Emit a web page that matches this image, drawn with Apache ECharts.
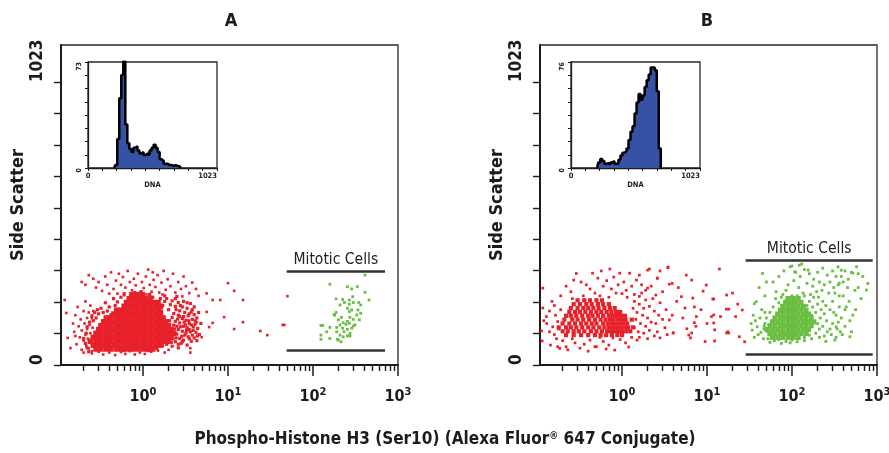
<!DOCTYPE html>
<html><head><meta charset="utf-8">
<script src="https://cdn.jsdelivr.net/npm/echarts@6/dist/echarts.min.js"></script>
<style>html,body{margin:0;padding:0;background:#fff}#c{width:889px;height:453px}</style>
</head><body><div id="c"></div><script>
// ---------- axis ticks / labels ----------
const xTickMajor = [1, 10, 100, 1000];
const xTickMinor = [0.2,0.3,0.4,0.5,0.6,0.7,0.8,0.9, 2,3,4,5,6,7,8,9, 20,30,40,50,60,70,80,90, 200,300,400,500,600,700,800,900];
const yTicks = [0, 113.67, 227.33, 341, 454.67, 568.33, 682, 795.67, 909.33, 1023];
const yLabels = [0, 1023];
const dnaTicks = [0, 113.67, 227.33, 341, 454.67, 568.33, 682, 795.67, 909.33, 1023];
const dnaLabels = [0, 1023];
const insetMaxA = 73, insetMaxB = 76;

// ---------- gates (Mitotic Cells) ----------
const gateA = {x: [49, 703], y: [54, 340]};
const gateB = {x: [28.5, 890], y: [40, 380]};

// ---------- DNA histograms ----------
const histAx = [208,224,240,256,272,288,304,320,336,352,368,384,400,416,432,448,464,480,496,512,528,544,560,576,592,608,624,640,656,672,688,704,720,736];
const histAy = [0,2,20,48,64,90,30,17,13,11,14,15,12,10,11,9,10,9,12,14,16,14,11,6,5,3,3,2,2,1.5,2,1.5,1,0];
const histBx = [208,224,240,256,272,288,304,320,336,352,368,384,400,416,432,448,464,480,496,512,528,544,560,576,592,608,624,640,656,672,688,704,720];
const histBy = [0,4,6.5,5,3,3.5,2.5,4,5,3,3,6,9,11,12,14,20,26,30,39,47,53,49,52,58,63,67,72,72,70,55,14,0];

// ---------- Panel A scatter ----------
const redCoreA = [
 [58,[0.28,0.32,0.37,0.42,0.49,0.56,0.64,0.74,0.85,0.98,1.13,1.3]],
 [72,[0.26,0.3,0.345,0.395,0.455,0.52,0.6,0.69,0.79,0.91,1.05,1.21,1.4,1.6]],
 [86,[0.24,0.28,0.32,0.37,0.42,0.49,0.56,0.64,0.74,0.85,0.98,1.13,1.3,1.5,1.72,1.98]],
 [100,[0.26,0.3,0.345,0.395,0.455,0.52,0.6,0.69,0.79,0.91,1.05,1.21,1.4,1.6,1.85,2.13]],
 [114,[0.28,0.32,0.37,0.42,0.49,0.56,0.64,0.74,0.85,0.98,1.13,1.3,1.5,1.72,1.98,2.3]],
 [128,[0.3,0.345,0.395,0.455,0.52,0.6,0.69,0.79,0.91,1.05,1.21,1.4,1.6,1.85,2.13]],
 [142,[0.32,0.37,0.42,0.49,0.56,0.64,0.74,0.85,0.98,1.13,1.3,1.5,1.72,1.98]],
 [156,[0.345,0.395,0.455,0.52,0.6,0.69,0.79,0.91,1.05,1.21,1.4,1.6,1.85]],
 [170,[0.37,0.42,0.49,0.56,0.64,0.74,0.85,0.98,1.13,1.3,1.5,1.72]],
 [184,[0.455,0.52,0.6,0.69,0.79,0.91,1.05,1.21,1.4,1.6]],
 [198,[0.49,0.56,0.64,0.74,0.85,0.98,1.13,1.3,1.5]],
 [212,[0.6,0.69,0.79,0.91,1.05,1.21,1.4,1.6]],
 [226,[0.64,0.74,0.85,0.98,1.13,1.3,1.5]],
 [240,[0.69,0.79,0.91,1.05,1.21]],
 [254,[0.74,0.85,0.98]]
];
const redMidA = [[1.9,240],[2.2,232],[2.6,226],[2.1,218],[2.4,212],[2.9,210],[3.3,205],[2.0,200],[2.7,196],[3.1,190],[3.7,192],[2.3,186],[2.6,180],[3.4,178],[4.0,182],[2.2,172],[2.9,168],[3.2,162],[3.8,165],[4.3,170],[2.4,158],[2.7,152],[3.5,150],[4.1,148],[2.3,144],[3.0,140],[3.3,135],[3.9,138],[4.4,132],[2.6,128],[2.9,122],[3.6,120],[4.2,118],[2.5,112],[3.1,108],[3.4,102],[4.0,98],[2.7,96],[3.0,90],[3.7,86],[2.4,84],[2.8,78],[3.3,72],[2.2,68],[2.6,62],[4.6,110],[4.8,150],[4.5,190],[1.8,250],[2.5,248],[3.0,230],[3.6,222],[4.0,210],[2.05,160],[2.1,130],[2.0,110],[2.25,95],[1.9,75],[2.5,140],[2.7,176],[3.15,145],[3.5,128],[3.8,108],[4.3,88],[3.2,116],[2.85,104],[3.45,160],[3.9,125],[3.0,175],[4.1,160],
 [2.45,200],[2.75,215],[3.5,185],[2.55,166],[3.05,155],[3.7,145],[2.35,130],[2.75,138],[3.25,125],[4.35,105],[2.45,98],[2.9,84],[3.5,95],[2.15,82],[2.6,75],[2.05,145],[2.2,118],[3.8,200],[3.3,225],[2.4,240],
 [0.32,205],[0.36,225],[0.4,210],[0.45,240],[0.38,195],[0.5,228],[0.55,245],[0.47,215],[0.42,182],[0.34,190],[0.6,258],[1.45,228],[1.6,240],[1.7,215],[1.55,205],[1.3,245],[1.2,255],[1.8,230],[1.65,195],[1.5,188],[0.28,170],[0.3,185],[0.26,160],[0.95,265],[0.8,262],
 [0.22,62],[0.21,78],[0.2,96],[0.215,115],[0.22,138],[0.235,155],[0.25,178],[0.27,190],[0.29,200],[0.23,48],[1.45,60],[1.7,70],[1.9,88],[1.15,52],[0.6,52]];
const redSparseA = [[0.19,300],[0.21,290],[0.23,325],[0.26,312],[0.28,280],[0.3,300],[0.33,268],[0.36,320],[0.38,290],[0.42,335],[0.45,275],[0.48,305],[0.5,258],[0.55,290],[0.58,318],[0.62,280],[0.66,340],[0.7,300],[0.74,270],[0.78,312],[0.82,288],[0.87,330],[0.92,262],[0.97,300],[1.02,278],[1.08,320],[1.15,345],[1.2,290],[1.26,265],[1.33,308],[1.4,282],[1.48,325],[1.55,262],[1.65,298],[1.75,340],[1.85,272],[1.95,310],[2.1,285],[2.25,330],[2.4,262],[2.6,300],[2.8,275],[3.0,320],[3.2,285],[3.5,260],[3.8,298],[4.2,275],[4.5,250],[1.1,255],[0.6,252],[0.4,258],[1.7,255],[2.9,248],[0.52,330],[1.3,335],
 [0.12,235],[0.125,188],[0.13,98],[0.14,61],[0.15,150],[0.155,120],[0.16,180],[0.165,75],[0.17,210],[0.175,140],[0.18,100],[0.185,165],[0.19,55],[0.19,125],[0.2,195],[0.2,88],[0.205,150],[0.21,230],[0.21,110],[0.215,70],[0.22,170],[0.22,130],[0.225,95],[0.23,190],[0.23,60],[0.235,145],[0.24,215],[0.24,115],[0.245,80],[0.25,170],[0.25,50],[0.255,135],[0.26,195],[0.2,45],[0.16,105],
 [0.25,42],[0.3,48],[0.34,38],[0.4,45],[0.47,36],[0.55,47],[0.62,40],[0.7,50],[0.8,38],[0.92,45],[1.05,40],[1.25,48],[1.5,52],[1.8,45],[2.0,55],[3.6,45],
 [5.6,259],[6.6,235],[8.1,235],[10,296],[11.8,268],[15,235],[5.6,192],[9,173],[15,155],[6.6,152],[6,137],[11.8,130],[4.9,101],[3.6,61],[4.3,155],[24,123],[29,108],[44,145],[46,145],[50,249]];
const greenA = [[409,325],[158,292],[254,283],[285,275],[332,283],[409,263],[293,247],[187,239],[223,237],[268,235],[234,226],[298,226],[345,226],[456,235],[208,217],[254,205],[285,199],[268,193],[338,199],[187,190],[364,187],[177,183],[327,181],[272,172],[298,165],[351,163],[199,163],[254,158],[227,153],[244,147],[268,151],[312,145],[208,145],[124,143],[130,143],[190,136],[158,136],[223,133],[254,129],[285,133],[145,120],[190,120],[232,120],[272,114],[208,108],[124,108],[158,96],[193,93],[227,102],[254,105],[272,105],[214,84],[199,90],[124,93],[298,141],[268,220],[364,217],[180,180],[217,172]];

// ---------- Panel B scatter ----------
const redCoreB = [
 [108,[0.22,0.27,0.33,0.4,0.48,0.56,0.65,0.76,0.88,1.0]],
 [122,[0.2,0.23,0.27,0.31,0.36,0.43,0.5,0.58,0.67,0.74,0.82,0.9,1.0,1.12,1.25]],
 [136,[0.18,0.22,0.25,0.29,0.34,0.4,0.46,0.54,0.62,0.7,0.78,0.86,0.95,1.06,1.18,1.35]],
 [150,[0.2,0.24,0.28,0.33,0.38,0.44,0.5,0.6,0.68,0.76,0.84,0.93,1.03,1.15]],
 [164,[0.21,0.26,0.3,0.35,0.41,0.48,0.56,0.64,0.72,0.8,0.9,1.0,1.1,1.3]],
 [178,[0.22,0.25,0.29,0.34,0.4,0.45,0.52,0.6,0.7,0.78,0.87,0.97,1.08]],
 [192,[0.24,0.28,0.32,0.37,0.43,0.5,0.57,0.66,0.75,0.85,0.95]],
 [206,[0.25,0.3,0.35,0.4,0.46,0.53,0.62,0.72,0.82]],
 [220,[0.27,0.32,0.38,0.44,0.52,0.6,0.7]],
 [234,[0.3,0.36,0.42,0.5,0.58]]
];
const redSparseB = [[0.29,331],[0.45,332],[0.57,340],[0.72,347],[0.94,332],[1.23,332],[1.6,325],[2.0,343],[2.8,340],[3.45,352],[0.27,307],[0.33,300],[0.52,314],[0.66,305],[0.8,318],[1.05,300],[1.48,307],[2.6,314],[2.0,278],[2.2,285],[1.9,270],[3.6,292],[3.9,295],[2.5,253],[3.0,265],[0.22,285],[0.25,265],[0.38,290],[0.42,275],[0.48,260],[0.6,285],[0.55,250],[0.75,275],[0.85,260],[0.9,290],[1.12,270],[1.3,285],[1.4,255],[1.7,290],[1.15,245],[0.35,250],[0.7,245],[0.19,250],[0.26,240],[1.0,258],[1.6,248],
 [0.117,278],[0.117,206],[0.113,123],[0.115,87],[0.129,175],[0.144,72],[0.153,138],[0.14,195],[0.175,157],[0.185,60],[0.13,150],[0.16,110],[0.15,230],[0.17,95],[0.165,180],[0.12,160],[0.18,130],[0.19,200],[0.16,215],[0.14,120],
 [0.22,66],[0.23,55],[0.32,61],[0.48,66],[0.82,54],[0.175,66],[0.5,66],[0.28,80],[0.36,75],[0.42,90],[0.6,85],[0.7,72],[0.95,92],[1.1,80],[1.3,100],[0.26,95],[0.55,100],[0.78,98],[0.4,50],[0.65,58],[1.5,90],[0.2,88],[1.2,65],
 [1.4,230],[1.6,220],[1.8,205],[2.1,212],[1.5,190],[1.75,180],[2.0,170],[2.4,195],[2.7,180],[1.45,165],[1.65,150],[1.9,140],[2.2,155],[2.5,150],[3.0,165],[1.4,135],[1.55,120],[1.8,115],[2.1,125],[2.6,120],[3.2,135],[1.6,100],[2.0,95],[2.4,105],[3.4,110],[1.35,205],[1.9,235],[2.8,225],[3.3,200],[1.7,260],[2.3,240],[3.6,163],[4.0,116],[2.8,98],[3.9,180],
 [5.7,325],[6.6,307],[9.8,289],[9,267],[11.7,239],[6.8,242],[5,247],[5.5,206],[7.1,210],[7.5,175],[7.4,140],[5.2,170],[5.8,131],[6.6,116],[12.3,127],[12.3,87],[11.3,175],[14.4,175],[17.5,120],[14,347],[17,253],[12,238],[23,220],[16.9,202],[18,202],[26,199],[12,181],[21.7,175],[12,152],[17,116],[18,116],[24,102],[7.1,153],[6.1,108],[6.4,98],[4,116],[3.5,354],[2.1,347],[2.6,314],[4.6,280],[8.5,200],[10,150],[4.4,230],[20,260],[9.5,85],[27.7,84]];
const greenCoreB = [
 [100,[59,68,78,90,103,118]],
 [114,[55,63,73,84,96,110,127,146]],
 [128,[51,59,68,78,90,103,118,136,156]],
 [142,[55,63,73,84,96,110,127,146,168]],
 [156,[59,68,78,90,103,118,136,156,180]],
 [170,[63,73,84,96,110,127,146,168]],
 [184,[68,78,90,103,118,136,156]],
 [198,[73,84,96,110,127,146]],
 [212,[78,90,103,118,136]],
 [226,[84,96,110,127]],
 [240,[90,103,118]]
];
const greenSparseB = [[45,331],[38,229],[36,222],[34,126],[39,138],[35,180],[42,170],[48,250],[44,200],[37,160],[40,110],[46,95],[33,150],[41,280],[47,140],[43,118],[50,300],[36,100],[48,190],
 [60,300],[70,320],[80,340],[95,355],[110,335],[125,320],[140,345],[160,330],[180,310],[200,335],[230,350],[260,325],[90,290],[105,305],[120,280],[150,295],[175,285],[210,300],[240,290],[65,265],[85,270],[135,260],[165,255],[195,265],[225,270],[280,300],[115,250],[75,245],[100,358],[300,340],[130,365],
 [52,95],[57,105],[62,88],[70,92],[85,85],[100,90],[120,95],[140,100],[160,108],[190,115],[210,130],[200,150],[230,140],[215,170],[190,190],[240,185],[175,210],[200,220],[220,200],[160,230],[180,245],[140,250],[120,240],[100,250],[85,235],[70,225],[60,210],[55,190],[50,170],[48,150],[47,130],[52,120],[64,240],[78,255],[150,215],[170,180],[255,160],[250,215],[205,245],[230,230],[260,120],[240,105],
 [280,200],[300,230],[320,260],[350,290],[380,320],[420,340],[500,335],[600,330],[780,295],[330,180],[360,210],[400,250],[450,280],[550,270],[300,150],[340,130],[380,170],[420,200],[470,230],[520,180],[290,110],[330,100],[370,120],[420,140],[480,160],[560,200],[650,240],[310,280],[270,260],[400,300],[280,130],[310,190],[350,155],[460,310],[600,280],[360,250],[390,110],[500,120],[330,320],
 [122,361],[108,337],[155,343],[348,355],[380,343],[520,332],[575,355],[680,320],[750,271],[435,210],[480,102],[330,138],[360,296],
 [55,82],[75,78],[95,80],[115,84],[140,88],[170,95],[210,100],[250,85],[320,90]];

// ---------- build ----------
const FF = "'Liberation Sans Narrow','Arial Narrow','DejaVu Sans Condensed',sans-serif";
const INK = '#1c1c1c';
const RED = '#e8202a', GREEN = '#6abf42', BLUE = '#3652a4';
const X_MIN = 0.1084, X_MAX = 1000, Y_MAX = 1157;
const rows = r => r.flatMap(([y, xs]) => xs.map(x => [x, y]));
const pairs = (xs, ys) => xs.map((x, i) => [x, ys[i]]);
const plain = v => String(Math.round(v));

function mainGrid(left) { return {left, top: 45, width: 337, height: 320, outerBoundsMode: 'none', containLabel: false, show: true, borderColor: '#2a2a2a', borderWidth: 1.3}; }
function insetGrid(left) { return {left, top: 62, width: 129, height: 106, outerBoundsMode: 'none', containLabel: false, show: true, borderColor: '#2a2a2a', borderWidth: 1.3}; }
function xMinor(g) {
  return {type: 'log', gridIndex: g, position: 'bottom', min: X_MIN, max: X_MAX,
    axisLine: {show: true, lineStyle: {color: INK, width: 2}},
    axisTick: {show: true, customValues: xTickMinor, length: 6, lineStyle: {color: INK, width: 1.4}},
    axisLabel: {show: false}, splitLine: {show: false}};
}
function xMajor(g) {
  return {type: 'log', gridIndex: g, position: 'bottom', min: X_MIN, max: X_MAX,
    axisLine: {show: false},
    axisTick: {show: true, customValues: xTickMajor, length: 11, lineStyle: {color: INK, width: 1.5}},
    axisLabel: {customValues: xTickMajor, margin: 22, color: INK,
      formatter: v => '{b|10}{s|' + Math.round(Math.log10(v)) + '}',
      rich: {b: {fontSize: 16, fontWeight: 'bold', fontFamily: FF, color: INK},
             s: {fontSize: 11, fontWeight: 'bold', fontFamily: FF, color: INK, padding: [0, 0, 8, 0]}}},
    splitLine: {show: false}};
}
function xDna(g) {
  return {type: 'value', gridIndex: g, position: 'bottom', min: 0, max: 1023,
    axisLine: {show: true, lineStyle: {color: INK, width: 1.3}},
    axisTick: {show: true, customValues: dnaTicks, length: 3, lineStyle: {color: INK, width: 1}},
    axisLabel: {customValues: dnaLabels, formatter: plain, fontSize: 7.5, fontWeight: 'bold', color: INK, margin: 4, alignMaxLabel: 'right', alignMinLabel: 'center'},
    name: 'DNA', nameLocation: 'middle', nameGap: 11, nameTextStyle: {fontSize: 7.5, fontWeight: 'bold', color: INK},
    splitLine: {show: false}};
}
function yMain(g) {
  return {type: 'value', gridIndex: g, min: 0, max: Y_MAX,
    axisLine: {show: true, lineStyle: {color: INK, width: 2}},
    axisTick: {show: true, customValues: yTicks, length: 7, lineStyle: {color: INK, width: 1.4}},
    axisLabel: {customValues: yLabels, formatter: plain, rotate: 90, align: 'left', verticalAlign: 'middle', margin: 23,
      fontSize: 17, fontWeight: 'bold', color: INK},
    name: 'Side Scatter', nameLocation: 'middle', nameRotate: 90, nameGap: 34,
    nameTextStyle: {fontSize: 18, fontWeight: 'bold', color: INK},
    splitLine: {show: false}};
}
function yInset(g, max) {
  const t = []; for (let i = 0; i <= 8; i++) t.push(max * i / 8);
  return {type: 'value', gridIndex: g, min: 0, max,
    axisLine: {show: true, lineStyle: {color: INK, width: 1.3}},
    axisTick: {show: true, customValues: t, length: 3, lineStyle: {color: INK, width: 1}},
    axisLabel: {customValues: [0, max], formatter: plain, rotate: 90, align: 'right', verticalAlign: 'middle', margin: 9,
      fontSize: 7, fontWeight: 'bold', color: INK},
    splitLine: {show: false}};
}
function dots(xi, yi, data, size, color) {
  return {type: 'scatter', xAxisIndex: xi, yAxisIndex: yi, data, symbol: 'rect', symbolSize: size,
    itemStyle: {color, opacity: 1}, silent: true, animation: false};
}
function gate(g) {
  const ls = {color: '#333', width: 2.5, type: 'solid'};
  return {silent: true, symbol: ['none', 'none'], animation: false, lineStyle: ls,
    data: [
      [{coord: [g.x[0], g.y[1]], label: {show: true, formatter: 'Mitotic Cells', position: 'insideMiddleTop', distance: 3,
         fontSize: 15.5, fontFamily: FF, color: '#222'}}, {coord: [g.x[1], g.y[1]]}],
      [{coord: [g.x[0], g.y[0]], label: {show: false}}, {coord: [g.x[1], g.y[0]]}]
    ]};
}
function hist(xi, yi, xs, ys) {
  return {type: 'line', xAxisIndex: xi, yAxisIndex: yi, data: pairs(xs, ys), step: 'middle', symbol: 'none',
    lineStyle: {color: '#000', width: 2.5}, areaStyle: {color: BLUE, opacity: 1}, clip: true, silent: true, animation: false};
}

const greenSeriesA = dots(0, 0, greenA, 2.8, GREEN); greenSeriesA.markLine = gate(gateA);
const greenSeriesB = dots(3, 2, greenSparseB, 2.8, GREEN); greenSeriesB.markLine = gate(gateB);

const option = {
  animation: false,
  textStyle: {fontFamily: FF},
  grid: [mainGrid(61), insetGrid(88), mainGrid(540), insetGrid(571)],
  xAxis: [xMinor(0), xMajor(0), xDna(1), xMinor(2), xMajor(2), xDna(3)],
  yAxis: [yMain(0), yInset(1, insetMaxA), yMain(2), yInset(3, insetMaxB)],
  graphic: [
    {type: 'text', x: 231, y: 21, style: {text: 'A', align: 'center', verticalAlign: 'middle', fontSize: 18, fontWeight: 'bold', fontFamily: FF, fill: INK}},
    {type: 'text', x: 707, y: 21, style: {text: 'B', align: 'center', verticalAlign: 'middle', fontSize: 18, fontWeight: 'bold', fontFamily: FF, fill: INK}},
    {type: 'text', x: 445, y: 440, style: {text: 'Phospho-Histone H3 (Ser10) (Alexa Fluor{r|®} 647 Conjugate)', align: 'center', verticalAlign: 'middle',
      fontSize: 17, fontWeight: 'bold', fontFamily: FF, fill: INK,
      rich: {r: {fontSize: 10, fontWeight: 'bold', fontFamily: FF, fill: INK, padding: [0, 0, 7, 0]}}}}
  ],
  series: [
    dots(0, 0, redSparseA, 2.6, RED),
    dots(0, 0, redMidA, 3.2, RED),
    dots(0, 0, rows(redCoreA), 5.6, RED),
    greenSeriesA,
    hist(2, 1, histAx, histAy),
    dots(3, 2, redSparseB, 2.7, RED),
    dots(3, 2, rows(redCoreB), 4.2, RED),
    dots(3, 2, rows(greenCoreB), 5.2, GREEN),
    greenSeriesB,
    hist(5, 3, histBx, histBy)
  ]
};
const chart = echarts.init(document.getElementById('c'), null, {renderer: 'canvas'});
chart.setOption(option);
</script></body></html>
